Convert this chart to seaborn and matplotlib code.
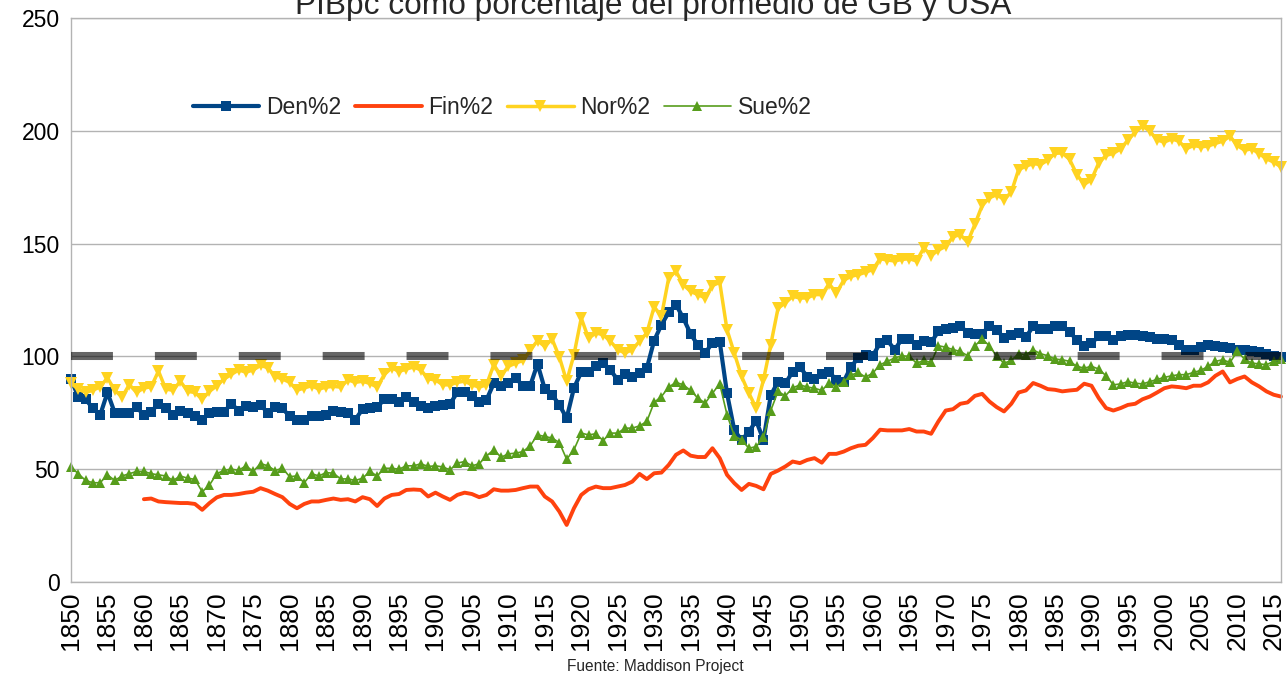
import numpy as np
import pandas as pd
import matplotlib
matplotlib.use("Agg")
import matplotlib.pyplot as plt
import seaborn as sns

years = list(range(1850, 2017))

den = [90, 82, 81, 77, 74, 84, 75, 75, 75, 77.5, 74, 75.5, 79, 77, 74, 76, 75, 73.5, 72, 75,
       75.5, 75.5, 79, 76, 78, 77.5, 78.5, 75,
       77.5, 77, 73.4, 71.6, 71.6, 73.7, 73.7, 74, 76, 75.5, 75, 72, 76.6, 77, 77.5, 81, 81, 80,
       82, 80, 78, 77, 78, 78.5, 79, 84,
       84, 82.5, 79.6, 80.8, 88, 86.7, 88, 90.4, 87, 87, 96.7, 85.5, 83, 78.5, 72.6, 86, 93, 93,
       95.6, 97, 94, 89.6, 92.3, 90.8, 92.6, 94.8, 107,
       114, 119.5, 122.9, 117, 110, 105, 101.5, 106, 106.5, 83.6, 67.3, 62.9, 66.6, 71.5, 62.9,
       82.8, 88.8, 88, 93.2, 95.4, 91, 90.2, 92.4, 93.2, 89.5, 88.8, 95.4, 99.3, 100.7,
       100.3, 105.9, 107.1, 103, 107.7, 107.7, 105.2, 106.7, 106.2, 111.1, 112.1, 112.6, 113.6,
       110.4, 110.1, 110.1, 113.6, 111.8, 108.1, 109.6, 110.4, 108.6, 113.3, 112.1, 112.1, 113.6,
       113.6, 110.7, 107.4, 104.7, 105.9, 108.9, 109.2, 107.1, 109.2, 109.6, 109.6, 109.2, 108.6,
       107.7, 107.7, 107.1, 105.2, 102.7, 103, 104.1, 105.2, 104.4, 104.1, 103.7, 102.7, 102.7,
       102.2, 101.8, 101.2, 100.3, 99.7]

fin = [np.nan] * 10 + [
       36.7, 37, 35.7, 35.4, 35.2, 35, 35, 34.6, 32, 35, 37.5, 38.6, 38.6, 39, 39.6, 40, 41.6, 40.5,
       39, 37.6, 34.6, 32.7, 34.6, 35.7, 35.7, 36.4, 37, 36.4, 36.7, 35.7, 37.6, 36.7, 33.7, 37,
       38.6, 39, 40.8, 41, 40.8, 37.9, 39.6, 37.9, 36.4, 38.6,
       39.6, 39, 37.6, 38.6, 41.1, 40.5, 40.5, 40.8, 41.6, 42.3, 42.3, 37.9, 35.7, 31.2, 25.3,
       32.7, 38.6, 41.1, 42.3, 41.6, 41.6, 42.3, 43, 44.5, 47.9, 45.6, 48.2,
       48.5, 51.9, 56.4, 58.3, 56, 55.4, 55.4, 59.3, 54.9, 47.5, 43.8, 40.8, 43.5, 42.6, 41.1,
       47.9, 49.4, 51.2, 53.4, 52.7, 54.1, 54.9, 52.9, 56.8, 56.8, 57.8, 59.3, 60.4, 60.8,
       63.8, 67.5, 67.2, 67.2, 67.2, 67.8, 66.7, 66.7, 65.7, 71.2, 76, 76.6, 79, 79.6, 82.5, 83.4,
       80, 77.5, 75.6, 79, 84, 84.9, 88.2, 87, 85.5, 85.2,
       84.5, 84.9, 85.2, 87.9, 87, 81.5, 77.1, 76, 77.1, 78.5, 79, 81, 82.2, 84, 85.9, 86.7, 86.4,
       85.9, 87, 87, 88.5, 91.4, 93.3, 88.5, 90, 91.1, 88.5, 86.7, 84.5, 83, 82.2]

nor = [88, 85.5, 84, 85, 86.5, 90.5, 85, 82, 87.5, 84, 86, 86.5, 93.5, 85.5, 85, 89, 84.5, 84,
       81, 84.5, 87, 90, 92, 94, 93, 94, 96, 95,
       91, 90, 88.5, 85, 86, 87, 85.5, 86.4, 86.7, 86.4, 89.6, 88.5, 89, 88, 86.4, 92, 95, 93.3,
       94.4, 95.3, 94, 90, 89.6, 87.4, 87.4, 88.5,
       89, 87.4, 86.4, 87.4, 96.3, 91.4, 95.6, 97, 98.2, 102.7, 107, 104.4, 107.7, 99.7, 89,
       100.7, 117, 108, 110.4, 109.6, 106.7, 103, 101.5, 103, 106.7, 110.4, 122,
       117.8, 134.8, 137.7, 131.8, 128.8, 127.4, 125.9, 131.4, 132.8, 111.8, 101.5, 91.1, 83.7,
       77.1, 89.6, 105.2, 121.4, 123.7, 126.6, 125.9, 125.9, 127.4, 127.4, 132.2, 128.1, 133.7,
       135.5, 136.2, 137.3,
       138.5, 143.3, 142.7, 142.3, 143, 143.3, 142.3, 148.1, 144.7, 147.1, 148.8, 153, 154, 150.6,
       158.5, 166.9, 170.3, 171.7, 169.5, 172.8, 182.8, 184.3, 185.5, 185, 187, 190,
       190.2, 187.3, 180.6, 176.2, 178.4, 185.8, 189.1, 190, 192, 195.9, 199.4, 202.1, 199.9,
       195.9, 195, 196.4, 195.4, 192, 193.5, 192.9, 193.2, 194.4, 195.4, 197.6, 193.5, 191.4,
       192, 189.9, 187.6, 186.1, 184]

sue = [51, 48, 45, 44, 44, 47.5, 45, 47, 48, 49, 49, 48, 47.5, 47, 45, 47, 46, 45.5, 40, 43,
       48, 49.5, 50, 49.5, 51.5, 49, 52.5, 51.5,
       49.4, 50.4, 46.7, 47, 44, 48, 47, 48.5, 48.2, 45.7, 45.7, 45, 46, 49, 47, 50.4, 50.4, 50,
       51.5, 51.5, 52.4, 51.2, 51.5, 51, 49.7, 52.7,
       53.4, 51.5, 52.4, 55.9, 58.6, 55.3, 56.8, 57.1, 57.8, 60.4, 65.2, 64.5, 63.8, 61.8, 54.4,
       58.6, 66, 65.2, 65.7, 62.7, 66, 66, 68.2, 68.2, 69.2, 71.2, 79.6,
       82.2, 86.4, 88.5, 87.4, 84.9, 81.5, 79.3, 83.7, 87.8, 74.1, 64.8, 62.9, 59.3, 60, 64.2,
       76, 84.5, 82.5, 86, 87.4, 86.4, 85.9, 84.9, 88.2, 86.4, 88.8, 91.7, 92.9, 90.8,
       92.6, 96.3, 97.8, 99.3, 100.3, 100, 97, 98.2, 97.3, 104.7, 104.1, 103, 102.2, 100.3,
       104.7, 107.7, 104.7, 100, 97, 98.2, 101.2, 100.7, 102.9, 101.2, 100.3, 98.8,
       98.5, 97.8, 95.6, 94.8, 95.6, 94.4, 91.4, 87.4, 87.8, 88.8, 88.1, 87.8, 88.8, 89.8, 90.7,
       91.4, 91.9, 91.9, 92.9, 93.8, 95.6, 97.8, 98.5, 97.3, 102.2, 98.8, 97, 96.7, 96.3, 97.8,
       98.8]

ref_level = 100  # promedio GB / USA
tick_years = list(range(1850, 2016, 5))
y_ticks = [0, 50, 100, 150, 200, 250]

df = pd.DataFrame({"year": years, "Den%2": den, "Fin%2": fin, "Nor%2": nor, "Sue%2": sue})

sns.set_style("white")
plt.rcParams["font.family"] = ["Liberation Sans", "DejaVu Sans"]
plt.rcParams["lines.scale_dashes"] = False

fig = plt.figure(figsize=(12.87, 6.77), dpi=100)
ax = fig.add_axes([71 / 1287, 1 - 582 / 677, 1210 / 1287, 564 / 677])

series = [
    ("Den%2", "#004586", "s", 6.5, 3.0),
    ("Fin%2", "#ff420e", None, 0, 2.8),
    ("Nor%2", "#ffd320", "v", 8.5, 2.5),
    ("Sue%2", "#579d1c", "^", 7.5, 1.2),
]
for name, color, marker, ms, lw in series:
    sns.lineplot(data=df, x="year", y=name, ax=ax, color=color, marker=marker,
                 markersize=ms, markeredgewidth=0, linewidth=lw, label=name,
                 clip_on=False)

ax.hlines(ref_level, years[0], years[-1], colors="black", alpha=0.6,
          linewidth=5.8, linestyles=(0, (30.2, 30.2)), capstyle="butt", zorder=5)

ax.set_xlim(years[0], years[-1])
ax.set_ylim(y_ticks[0], y_ticks[-1])
ax.set_yticks(y_ticks)
ax.set_xticks(tick_years)
ax.set_xticks(years, minor=True)
ax.set_xticklabels([str(y) for y in tick_years], rotation=90)
ax.set_xlabel("")
ax.set_ylabel("")

ax.grid(axis="y", color="#b3b3b3", linewidth=1)
for sp in ax.spines.values():
    sp.set_color("#b3b3b3")
    sp.set_linewidth(1)
ax.tick_params(axis="y", which="major", length=6, width=1, color="#b3b3b3",
               labelsize=16.5, pad=2, labelcolor="black")
ax.tick_params(axis="x", which="both", length=4.5, width=0.8, color="#b3b3b3",
               labelsize=19, pad=2, labelcolor="black")

leg = ax.legend(loc="center left", bbox_to_anchor=(193 / 1287, 1 - 108 / 677),
                bbox_transform=fig.transFigure, ncol=4, frameon=False, fontsize=16.5,
                handlelength=2.9, handletextpad=0.3, columnspacing=0.6,
                borderpad=0, borderaxespad=0, numpoints=1)

fig.text(653 / 1287, 1 - 14 / 677, "PIBpc como porcentaje del promedio de GB y USA",
         ha="center", va="baseline", fontsize=22.8)
fig.text(655 / 1287, 1 - 671 / 677, "Fuente: Maddison Project",
         ha="center", va="baseline", fontsize=11.2)

fig.savefig("out.png", dpi=100)
